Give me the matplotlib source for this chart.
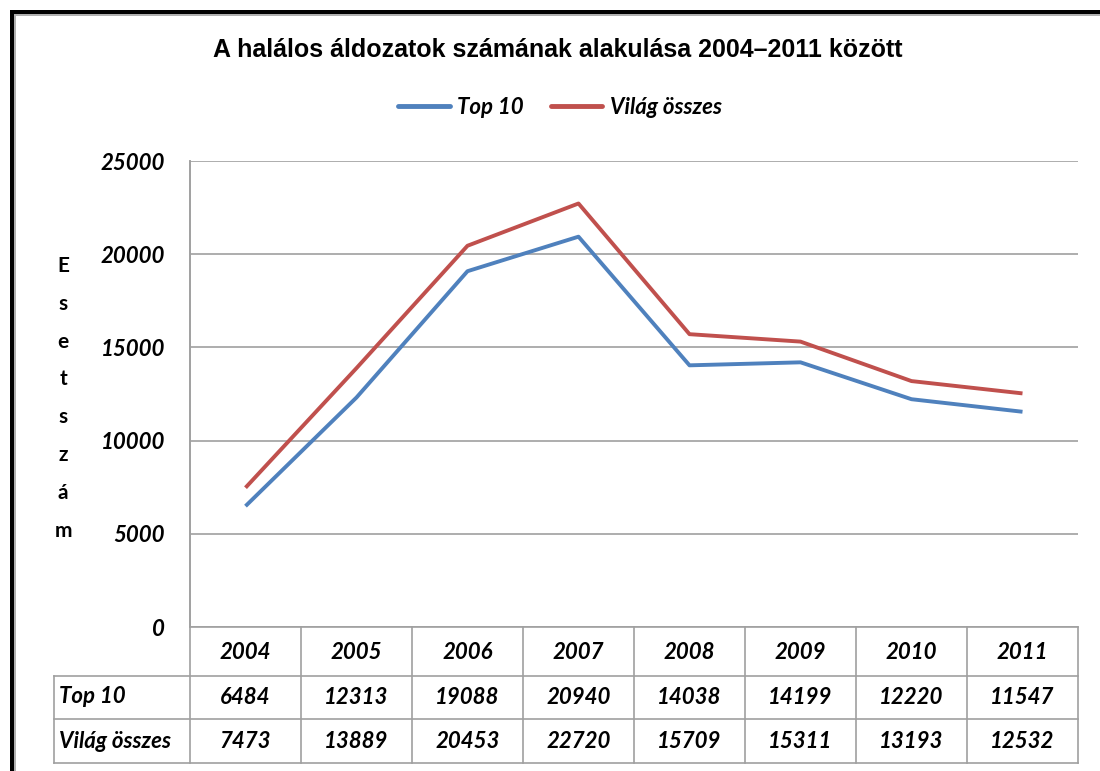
import matplotlib
matplotlib.use("Agg")
import matplotlib.pyplot as plt
from matplotlib.lines import Line2D
from matplotlib.patches import Rectangle

years = ["2004", "2005", "2006", "2007", "2008", "2009", "2010", "2011"]
top10 = [6484, 12313, 19088, 20940, 14038, 14199, 12220, 11547]
vilag = [7473, 13889, 20453, 22720, 15709, 15311, 13193, 12532]
series_names = ["Top 10", "Világ összes"]
title = "A halálos áldozatok számának alakulása 2004–2011 között"
ylabel = "Esetszám"
yticks = [0, 5000, 10000, 15000, 20000, 25000]

W, H = 1100, 771
fig = plt.figure(figsize=(W / 100, H / 100), dpi=100)
fig.patch.set_facecolor("white")

def fx(px):
    return px / W

def fy(py):
    return 1 - py / H

FS = 16
L, R, T, B = 190, 1078, 161, 627
ax = fig.add_axes([fx(L), fy(B), fx(R) - fx(L), fy(T) - fy(B)])
ax.set_xlim(-0.5, len(years) - 0.5)
ax.set_ylim(0, 25000)
ax.set_yticks(yticks)
ax.set_yticklabels([str(v) for v in yticks])
ax.set_xticks([])
for s in ["top", "right", "bottom"]:
    ax.spines[s].set_visible(False)
ax.spines["left"].set_color("#a0a0a0")
ax.spines["left"].set_linewidth(1.2)
ax.tick_params(axis="y", length=0, pad=18)
for lab in ax.get_yticklabels():
    lab.set_fontfamily("Lato")
    lab.set_fontweight("bold")
    lab.set_fontstyle("italic")
    lab.set_fontsize(FS)
ax.grid(axis="y", color="#a0a0a0", linewidth=1.2)
ax.set_axisbelow(True)

x = list(range(len(years)))
l1, = ax.plot(x, top10, color="#4F81BD", linewidth=2.8, solid_capstyle="butt")
l2, = ax.plot(x, vilag, color="#C0504D", linewidth=2.8, solid_capstyle="butt")

# Title
fig.text(fx(558), fy(50), title, ha="center", va="center",
         fontfamily="Liberation Sans", fontweight="bold", fontsize=18)

# Legend
leg = fig.legend([l1, l2], series_names, loc="center", bbox_to_anchor=(fx(560), fy(107)),
                 ncol=2, frameon=False, handlelength=2.3, handletextpad=0.35, columnspacing=1.2,
                 prop={"family": "Lato", "weight": "bold", "style": "italic", "size": FS})
for lh in leg.get_lines():
    lh.set_linewidth(3.5)
    lh.set_solid_capstyle("round")

# Y label: vertical stacked letters
for i, ch in enumerate(ylabel):
    fig.text(fx(63), fy(266 + i * 37.8), ch, ha="center", va="center",
             fontfamily="Lato", fontweight="bold", fontsize=15)

# Data table
grid_col = "#a0a0a0"
colw = (R - L) / len(years)
rows_y = [627, 676, 719, 763]
TL = 54
tl = dict(color=grid_col, linewidth=1.2, transform=fig.transFigure)
fig.add_artist(Line2D([fx(L), fx(R)], [fy(rows_y[0])] * 2, **tl))
for yy in rows_y[1:]:
    fig.add_artist(Line2D([fx(TL), fx(R)], [fy(yy)] * 2, **tl))
fig.add_artist(Line2D([fx(TL), fx(TL)], [fy(rows_y[1]), fy(rows_y[-1])], **tl))
fig.add_artist(Line2D([fx(L), fx(L)], [fy(T), fy(rows_y[-1])], **tl))
for i in range(1, len(years) + 1):
    xx = L + i * colw
    fig.add_artist(Line2D([fx(xx), fx(xx)], [fy(rows_y[0]), fy(rows_y[-1])], **tl))

tfont = dict(fontfamily="Lato", fontweight="bold", fontstyle="italic", fontsize=FS)
for i, yr in enumerate(years):
    cx = L + (i + 0.5) * colw
    fig.text(fx(cx), fy((rows_y[0] + rows_y[1]) / 2 + 1), yr, ha="center", va="center", **tfont)
    fig.text(fx(cx), fy((rows_y[1] + rows_y[2]) / 2), str(top10[i]), ha="center", va="center", **tfont)
    fig.text(fx(cx), fy((rows_y[2] + rows_y[3]) / 2), str(vilag[i]), ha="center", va="center", **tfont)
fig.text(fx(59), fy((rows_y[1] + rows_y[2]) / 2 - 1), series_names[0], ha="left", va="center", **tfont)
fig.text(fx(59), fy((rows_y[2] + rows_y[3]) / 2), series_names[1], ha="left", va="center", **tfont)

# Black frame (top and left) with grey shadow
fig.add_artist(Rectangle((fx(10), 0), 4 / W, fy(10), transform=fig.transFigure,
                         facecolor="black", edgecolor="none"))
fig.add_artist(Rectangle((fx(10), fy(14)), 1 - fx(10), 4 / H, transform=fig.transFigure,
                         facecolor="black", edgecolor="none"))
fig.add_artist(Rectangle((fx(14), 0), 2 / W, fy(14), transform=fig.transFigure,
                         facecolor="#b0b0b0", edgecolor="none"))
fig.add_artist(Rectangle((fx(14), fy(16)), 1 - fx(14), 2 / H, transform=fig.transFigure,
                         facecolor="#b0b0b0", edgecolor="none"))

fig.savefig("out.png", dpi=100, facecolor="white")
